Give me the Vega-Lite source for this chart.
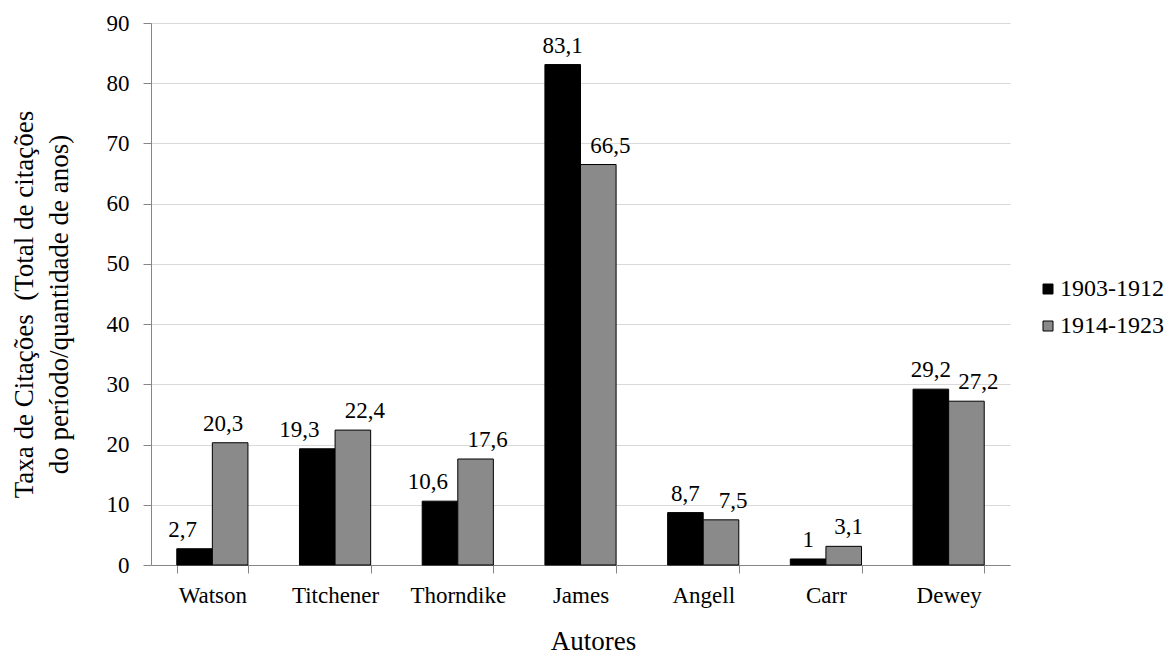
{
  "$schema": "https://vega.github.io/schema/vega-lite/v6.json",
  "width": 859,
  "height": 542,
  "autosize": {"type": "none"},
  "padding": {"left": 151, "top": 23, "right": 161, "bottom": 89},
  "background": "white",
  "config": {
    "font": "Liberation Serif, Times New Roman, serif",
    "view": {"stroke": null},
    "locale": {
      "number": {"decimal": ",", "thousands": ".", "grouping": [3], "currency": ["", ""]}
    },
    "text": {"font": "Liberation Serif, Times New Roman, serif"},
    "axis": {
      "labelFont": "Liberation Serif, Times New Roman, serif",
      "labelFontSize": 23,
      "labelColor": "#000000",
      "titleFont": "Liberation Serif, Times New Roman, serif",
      "titleFontSize": 27,
      "titleFontWeight": "normal",
      "titleColor": "#000000",
      "domainColor": "#868686",
      "domainWidth": 1,
      "tickColor": "#868686",
      "tickSize": 8,
      "gridColor": "#d9d9d9",
      "gridWidth": 1
    },
    "legend": {
      "labelFont": "Liberation Serif, Times New Roman, serif",
      "labelFontSize": 24,
      "labelColor": "#000000"
    }
  },
  "data": {
    "values": [
      {"autor": "Watson", "periodo": "1903-1912", "taxa": 2.7},
      {"autor": "Watson", "periodo": "1914-1923", "taxa": 20.3},
      {"autor": "Titchener", "periodo": "1903-1912", "taxa": 19.3},
      {"autor": "Titchener", "periodo": "1914-1923", "taxa": 22.4},
      {"autor": "Thorndike", "periodo": "1903-1912", "taxa": 10.6},
      {"autor": "Thorndike", "periodo": "1914-1923", "taxa": 17.6},
      {"autor": "James", "periodo": "1903-1912", "taxa": 83.1},
      {"autor": "James", "periodo": "1914-1923", "taxa": 66.5},
      {"autor": "Angell", "periodo": "1903-1912", "taxa": 8.7},
      {"autor": "Angell", "periodo": "1914-1923", "taxa": 7.5},
      {"autor": "Carr", "periodo": "1903-1912", "taxa": 1},
      {"autor": "Carr", "periodo": "1914-1923", "taxa": 3.1},
      {"autor": "Dewey", "periodo": "1903-1912", "taxa": 29.2},
      {"autor": "Dewey", "periodo": "1914-1923", "taxa": 27.2}
    ]
  },
  "encoding": {
    "x": {
      "field": "autor",
      "type": "nominal",
      "sort": null,
      "scale": {"paddingInner": 0.42, "paddingOuter": 0.21},
      "axis": {
        "title": "Autores",
        "labelAngle": 0,
        "labelPadding": 11,
        "tickBand": "extent",
        "grid": false,
        "titleX": 442,
        "titleY": 84,
        "titleBaseline": "alphabetic",
        "titleAlign": "center"
      }
    },
    "xOffset": {
      "field": "periodo",
      "type": "nominal",
      "scale": {"paddingInner": 0, "paddingOuter": 0}
    },
    "y": {
      "field": "taxa",
      "type": "quantitative",
      "scale": {"domain": [0, 90], "nice": false},
      "axis": {
        "values": [0, 10, 20, 30, 40, 50, 60, 70, 80, 90],
        "grid": true,
        "labelPadding": 14,
        "title": ["Taxa de Citações\u00a0 (Total de citações", "do período/quantidade de anos)"],
        "titleLineHeight": 35,
        "titleAngle": -90,
        "titleAlign": "center",
        "titleBaseline": "bottom",
        "titleX": -113,
        "titleY": 281
      }
    }
  },
  "layer": [
    {
      "mark": {"type": "bar", "stroke": "#000000", "strokeWidth": 1},
      "encoding": {
        "fill": {
          "field": "periodo",
          "type": "nominal",
          "scale": {"domain": ["1903-1912", "1914-1923"], "range": ["#000000", "#8a8a8a"]},
          "legend": {
            "title": null,
            "orient": "none",
            "legendX": 885,
            "legendY": 254,
            "padding": 0,
            "symbolType": "square",
            "symbolSize": 100,
            "symbolStrokeColor": "#000000",
            "symbolStrokeWidth": 1,
            "labelOffset": 0,
            "rowPadding": 13
          }
        }
      }
    },
    {
      "transform": [{"filter": "datum.periodo === '1903-1912' && datum.autor === 'Titchener'"}],
      "mark": {"type": "text", "fontSize": 23, "color": "#000000", "align": "center", "baseline": "alphabetic", "dy": -12, "dx": -18},
      "encoding": {"text": {"field": "taxa", "type": "quantitative", "format": ".3~g"}}
    },
    {
      "transform": [{"filter": "datum.periodo === '1903-1912' && (datum.autor === 'Watson' || datum.autor === 'Thorndike')"}],
      "mark": {"type": "text", "fontSize": 23, "color": "#000000", "align": "center", "baseline": "alphabetic", "dy": -12, "dx": -12},
      "encoding": {"text": {"field": "taxa", "type": "quantitative", "format": ".3~g"}}
    },
    {
      "transform": [{"filter": "datum.periodo === '1903-1912' && indexof(['James', 'Angell', 'Carr', 'Dewey'], datum.autor) >= 0"}],
      "mark": {"type": "text", "fontSize": 23, "color": "#000000", "align": "center", "baseline": "alphabetic", "dy": -12},
      "encoding": {"text": {"field": "taxa", "type": "quantitative", "format": ".3~g"}}
    },
    {
      "transform": [{"filter": "datum.periodo === '1914-1923' && datum.autor === 'Watson'"}],
      "mark": {"type": "text", "fontSize": 23, "color": "#000000", "align": "center", "baseline": "alphabetic", "dy": -12, "dx": -7},
      "encoding": {"text": {"field": "taxa", "type": "quantitative", "format": ".3~g"}}
    },
    {
      "transform": [{"filter": "datum.periodo === '1914-1923' && datum.autor === 'Carr'"}],
      "mark": {"type": "text", "fontSize": 23, "color": "#000000", "align": "center", "baseline": "alphabetic", "dy": -12, "dx": 5},
      "encoding": {"text": {"field": "taxa", "type": "quantitative", "format": ".3~g"}}
    },
    {
      "transform": [{"filter": "datum.periodo === '1914-1923' && indexof(['Titchener', 'Thorndike', 'James', 'Angell', 'Dewey'], datum.autor) >= 0"}],
      "mark": {"type": "text", "fontSize": 23, "color": "#000000", "align": "center", "baseline": "alphabetic", "dy": -12, "dx": 12},
      "encoding": {"text": {"field": "taxa", "type": "quantitative", "format": ".3~g"}}
    }
  ]
}
